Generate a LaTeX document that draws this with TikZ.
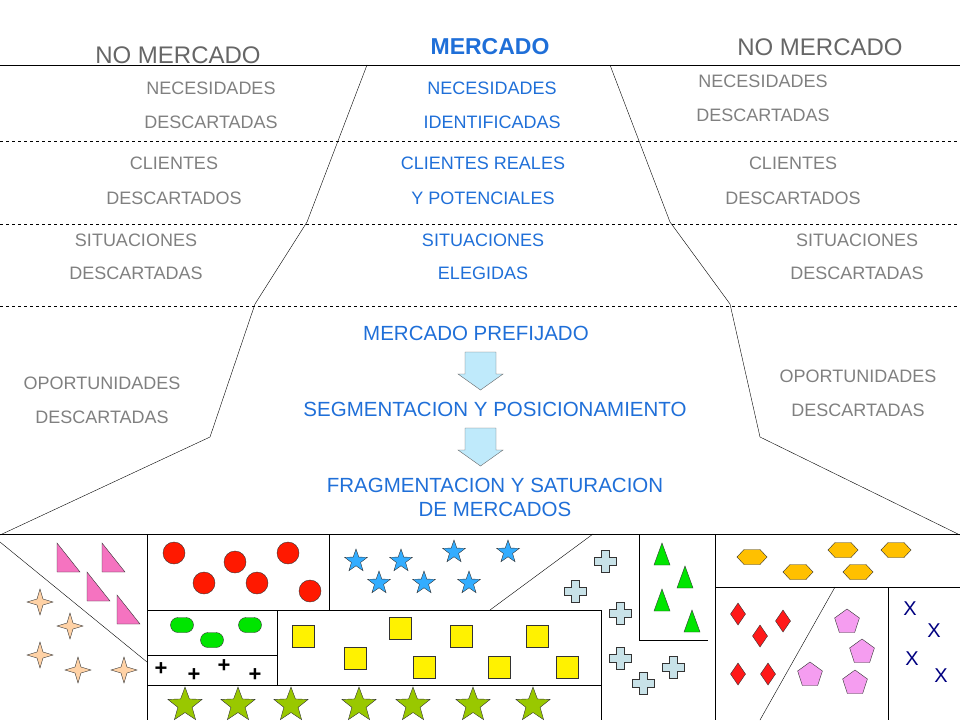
\documentclass[tikz,border=0pt]{standalone}
\usepackage{fontspec}
\setmainfont{Liberation Sans}
\usetikzlibrary{shapes.geometric,shapes.misc}
\definecolor{gtx}{HTML}{808080}
\definecolor{btx}{HTML}{1F6FD8}
\definecolor{hexc}{HTML}{FFC000}
\definecolor{penc}{HTML}{F59DF0}
\definecolor{gstar}{HTML}{99C800}
\definecolor{crossc}{HTML}{C8E2E8}
\begin{document}
\begin{tikzpicture}[x=1pt,y=-1pt,
 g/.style={text=gtx,font=\fontsize{18}{20}\selectfont},
 b/.style={text=btx,font=\fontsize{18}{20}\selectfont},
 bb/.style={text=btx,font=\fontsize{20.5}{24}\selectfont},
 dl/.style={dashed,thin},
 ln/.style={thin,black},
 box/.style={line width=0.8pt},
 sh/.style={draw=black!80,line width=0.4pt},
 barrow/.style={draw=black!60,fill=cyan!25!white}]
\useasboundingbox (0,0) rectangle (960,720);
% lines
\draw[ln] (0,65) -- (960,65);
\foreach \y in {141,224,306} \draw[dl] (0,\y) -- (960,\y);
\coordinate (l1) at (367,65); \coordinate (l2) at (307,222); \coordinate (l3) at (255,304);
\coordinate (l4) at (210,437); \coordinate (l5) at (0,535);
\coordinate (r1) at (610,65); \coordinate (r2) at (670,222); \coordinate (r3) at (730,304);
\coordinate (r4) at (760,437); \coordinate (r5) at (960,535);
\draw[ln] (l1)--(l2)--(l3)--(l4)--(l5);
\draw[ln] (r1)--(r2)--(r3)--(r4)--(r5);
% texts
\node[text=btx,font=\bfseries\fontsize{23}{26}\selectfont] (m) at (490,47) {MERCADO};
\node[text=black!60,font=\fontsize{24}{26}\selectfont] (nm1) at (178,55) {NO MERCADO};
\node[text=black!60,font=\fontsize{24}{26}\selectfont] (nm2) at (820,47) {NO MERCADO};
\node[g] at (211,88) {NECESIDADES}; \node[g] at (211,122) {DESCARTADAS};
\node[g] at (763,81) {NECESIDADES}; \node[g] at (763,115) {DESCARTADAS};
\node[b] at (492,88) {NECESIDADES}; \node[b] at (492,122) {IDENTIFICADAS};
\node[g] at (174,163) {CLIENTES}; \node[g] at (174,198) {DESCARTADOS};
\node[g] at (793,163) {CLIENTES}; \node[g] at (793,198) {DESCARTADOS};
\node[b] at (483,163) {CLIENTES REALES}; \node[b] at (483,198) {Y POTENCIALES};
\node[g] at (136,240) {SITUACIONES}; \node[g] at (136,273) {DESCARTADAS};
\node[g] at (857,240) {SITUACIONES}; \node[g] at (857,273) {DESCARTADAS};
\node[b] at (483,240) {SITUACIONES}; \node[b] at (483,273) {ELEGIDAS};
\node[bb] (mp) at (476,333) {MERCADO PREFIJADO};
\node[bb] (sp) at (495,409) {SEGMENTACION Y POSICIONAMIENTO};
\node[bb,align=center] (fs) at (495,497) {FRAGMENTACION Y SATURACION\\DE MERCADOS};
\node[g] at (102,383) {OPORTUNIDADES}; \node[g] at (102,417) {DESCARTADAS};
\node[g] at (858,376) {OPORTUNIDADES}; \node[g] at (858,410) {DESCARTADAS};
% block arrows
\foreach \t in {352,428}
 \draw[barrow] (465,\t) -- (496,\t) -- (496,\t+22) -- (503,\t+22) -- (480.5,\t+38) -- (458,\t+22) -- (465,\t+22) -- cycle;
% bottom boxes
\draw[box] (0,534) -- (960,534);
\draw[ln] (0,542) -- (147,662);
\draw[box] (147,534) -- (147,720);
\draw[box] (329,534) -- (329,610);
\draw[box] (147,610) -- (490,610);
\draw[ln] (490,610) -- (593,534);
\draw[box] (147,655) -- (277,655);
\draw[box] (277,610) -- (601,610) -- (601,720);
\draw[box] (277,610) -- (277,685);
\draw[box] (147,685) -- (601,685);
\draw[box] (639,534) -- (639,640) -- (708,640);
\draw[box] (715,534) -- (715,720);
\draw[box] (715,587) -- (960,587);
\draw[box] (888,587) -- (888,720);
\draw[ln] (835,587) -- (760,720);
% pink triangles
\foreach \x/\y in {57/543,102/543,87/572,117/595}
 \draw[sh,fill=magenta!55] (\x,\y) -- (\x,\y+29) -- (\x+23,\y+29) -- cycle;
% 4-point stars
\foreach \x/\y in {40/602,70/626,40/655,78/670,124/670}
 \draw[sh,fill=orange!35] (\x,\y-13) -- (\x+3,\y-3) -- (\x+13,\y) -- (\x+3,\y+3) -- (\x,\y+13) -- (\x-3,\y+3) -- (\x-13,\y) -- (\x-3,\y-3) -- cycle;
% red circles
\foreach \x/\y in {174/553,235/562,288/553,204/583,257/583,310/591}
 \draw[sh,fill=red!80!orange] (\x,\y) circle (11);
% blue stars
\foreach \x/\y in {356/561,401/561,454/552,508/552,379/583,424/583,469/583}
 \node[star,star points=5,star point ratio=2.5,minimum size=24,inner sep=0,sh,fill=blue!40!cyan!80] at (\x,\y) {};
% green octagons
\foreach \x/\y in {182/625,212/640,250/625}
 \node[rounded rectangle,minimum width=23,minimum height=15,inner sep=0,sh,fill=green!90!black] at (\x,\y) {};
% plus
\foreach \x/\y in {161/669,194/675,224/666,255/675}
 \node[font=\bfseries\fontsize{22}{22}\selectfont] at (\x,\y) {+};
% yellow squares
\foreach \x/\y in {303/636,400/628,461/636,537/636,355/658,424/667,499/667,567/667}
 \draw[sh,fill=yellow] (\x-11,\y-11) rectangle (\x+11,\y+11);
% green stars
\begin{scope}
\clip (147,685) rectangle (601,720);
\foreach \x in {185,238,291,359,413,473,533}
 \node[star,star points=5,star point ratio=2.4,minimum size=36,inner sep=0,sh,fill=gstar] at (\x,705) {};
\end{scope}
% crosses
\foreach \x/\y in {605/561,575/591,620/613,620/658,643/683,673/667}
 \draw[sh,fill=crossc] (\x-4,\y-11) -- (\x+4,\y-11) -- (\x+4,\y-4) -- (\x+11,\y-4) -- (\x+11,\y+4) -- (\x+4,\y+4) -- (\x+4,\y+11) -- (\x-4,\y+11) -- (\x-4,\y+4) -- (\x-11,\y+4) -- (\x-11,\y-4) -- (\x-4,\y-4) -- cycle;
% green triangles
\foreach \x/\y in {662/554,685/577,662/600,692/621}
 \draw[sh,fill=green!90!black] (\x,\y-11) -- (\x+8,\y+11) -- (\x-8,\y+11) -- cycle;
% hexagons
\foreach \x/\y in {752/557,798/572,843/550,858/572,896/550}
 \draw[sh,fill=hexc] (\x-15,\y) -- (\x-8,\y-7.5) -- (\x+8,\y-7.5) -- (\x+15,\y) -- (\x+8,\y+7.5) -- (\x-8,\y+7.5) -- cycle;
% diamonds
\foreach \x/\y in {738/614,760/636,783/621,738/674,768/674}
 \draw[sh,fill=red!90] (\x,\y-11) -- (\x+7.5,\y) -- (\x,\y+11) -- (\x-7.5,\y) -- cycle;
% pentagons
\foreach \x/\y in {847/622,862/652,810/675,855/683}
 \node[regular polygon,regular polygon sides=5,minimum size=26,inner sep=0,sh,fill=penc] at (\x,\y) {};
% X
\foreach \x/\y in {910/609,934/631,912/659,941/676}
 \node[text=blue!50!black,font=\fontsize{20}{20}\selectfont] at (\x,\y) {X};
\end{tikzpicture}
\end{document}
